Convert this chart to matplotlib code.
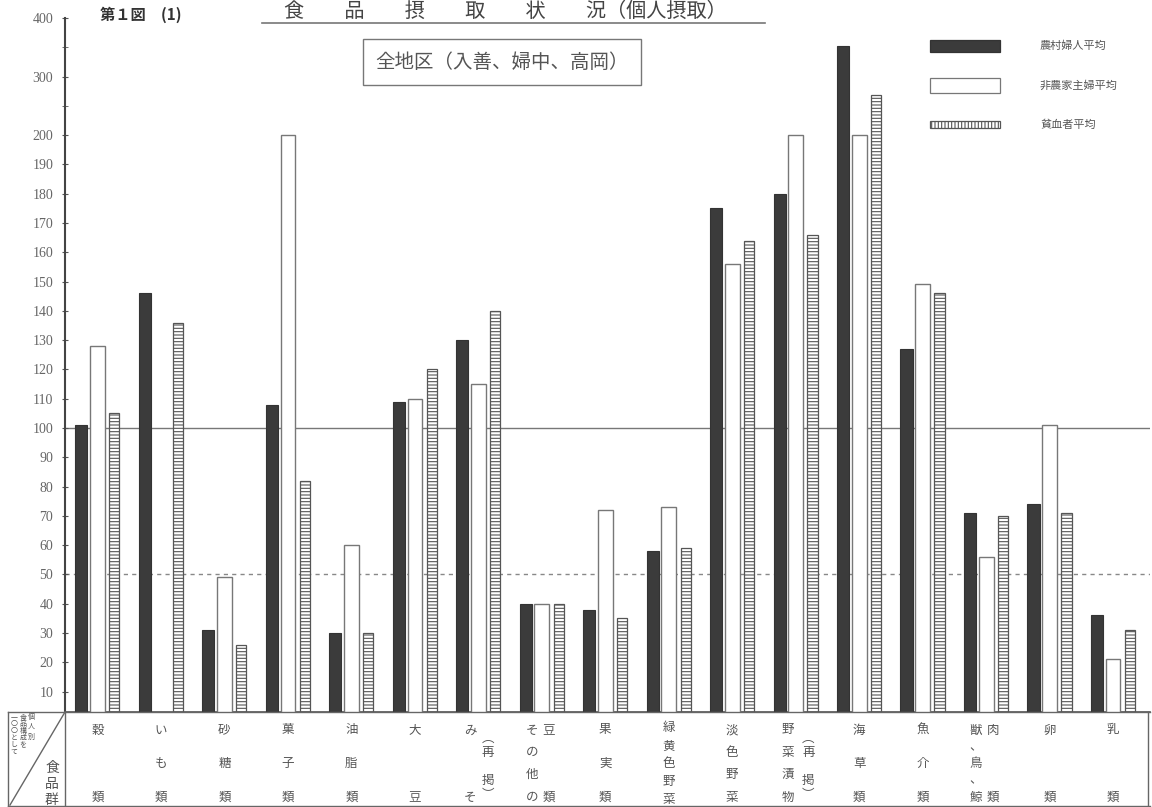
import numpy as np
import matplotlib
matplotlib.use("Agg")
import matplotlib.pyplot as plt
from matplotlib.patches import Rectangle
from matplotlib.lines import Line2D
import matplotlib.transforms as mtrans

plt.rcParams['font.family'] = ['Noto Sans CJK JP', 'DejaVu Sans']
plt.rcParams['hatch.linewidth'] = 0.8

# データ (個人別食品構成を100とした摂取率)
categories = ['穀類', 'いも類', '砂糖類', '菓子類', '油脂類', '大豆', 'みそ（再掲）',
              'その他の豆類', '果実類', '緑黄色野菜', '淡色野菜', '野菜漬物（再掲）',
              '海草類', '魚介類', '獣肉鳥鯨類', '卵類', '乳類']
farm_women = [101, 146, 31, 108, 30, 109, 130, 40, 38, 58, 175, 180, 352, 127, 71, 74, 36]
non_farm_wives = [128, np.nan, 49, 200, 60, 110, 115, 40, 72, 73, 156, 200, 200, 149, 56, 101, 21]
anemic = [105, 136, 26, 82, 30, 120, 140, 40, 35, 59, 164, 166, 268, 146, 70, 71, 31]
series_names = ['農村婦人平均', '非農家主婦平均', '貧血者平均']
ytick_values = [10, 20, 30, 40, 50, 60, 70, 80, 90, 100, 110, 120, 130, 140, 150,
                160, 170, 180, 190, 200, 300, 400]

# 表の中の縦書きラベル (列のずれ, 文字列, 上端px, 下端px)
label_cols = [
    [(0, '穀　類')],
    [(0, 'いも類')],
    [(0, '砂糖類')],
    [(0, '菓子類')],
    [(0, '油脂類')],
    [(0, '大　豆')],
    [(-0.13, 'み　そ'), (0.15, '︵再　掲︶', 738, 795)],
    [(-0.15, 'その他の'), (0.11, '豆　　類')],
    [(0, '果実類')],
    [(0, '緑黄色野菜', 728, 800)],
    [(0, '淡色野菜')],
    [(-0.12, '野菜漬物'), (0.2, '︵再　掲︶', 738, 795)],
    [(0, '海草類')],
    [(0, '魚介類')],
    [(-0.17, '獣、鳥、鯨'), (0.11, '肉　類')],
    [(0, '卵　類')],
    [(0, '乳　類')],
]


def fwd(v):
    v = np.asarray(v, dtype=float)
    return np.where(v <= 200, v, 200 + (v - 200) * 0.2)


def inv(u):
    u = np.asarray(u, dtype=float)
    return np.where(u <= 200, u, 200 + (u - 200) * 5.0)


W, H = 1152, 807
fig = plt.figure(figsize=(W / 100, H / 100), dpi=100)
fig.patch.set_facecolor('white')


def fx(px):
    return px / W


def fy(py):
    return 1 - py / H


ax = fig.add_axes([fx(65), fy(712), fx(1150) - fx(65), fy(18) - fy(712)])
ax.set_yscale('function', functions=(fwd, inv))
ax.set_ylim(3, 400)
ax.set_xlim(-0.51, 16.58)

x = np.arange(len(categories))
ax.bar(x - 0.255, farm_women, width=0.19, color='#3b3b3b', edgecolor='#333333', lw=0.8, zorder=3)
ax.bar(x, non_farm_wives, width=0.23, color='white', edgecolor='#777777', lw=1.0, zorder=3)
ax.bar(x + 0.265, anemic, width=0.16, color='white', edgecolor='#555555', lw=0.9,
       hatch='-----', zorder=3)

ax.axhline(100, color='#777777', lw=1.0, zorder=1)
ax.axhline(50, color='#888888', lw=1.0, ls=(0, (3, 3)), zorder=1)

for s in ['top', 'right']:
    ax.spines[s].set_visible(False)
ax.spines['left'].set_color('#444444')
ax.spines['left'].set_linewidth(1.5)
ax.spines['bottom'].set_color('#555555')
ax.spines['bottom'].set_linewidth(1.2)

ax.set_xticks([])
ax.set_yticks(ytick_values)
ax.set_yticklabels([str(v) for v in ytick_values], family=['Liberation Serif'],
                   fontsize=10, color='#666666')
ax.set_yticks([250, 350], minor=True)
ax.yaxis.set_minor_formatter(plt.NullFormatter())
ax.tick_params(axis='y', which='both', direction='inout', length=5, color='#555555', pad=6)

# タイトル
fig.text(fx(505), fy(11), '食　　品　　摂　　取　　状　　況（個人摂取）', ha='center', va='center',
         fontsize=14.5, color='#444444')
fig.add_artist(Line2D([fx(262), fx(765)], [fy(23), fy(23)], color='#777777', lw=1.2))
fig.text(fx(100), fy(15), '第１図　(1)', ha='left', va='center', fontsize=11,
         fontweight='bold', color='#333333')
fig.text(fx(502), fy(62), '全地区（入善、婦中、高岡）', ha='center', va='center',
         fontsize=14, color='#555555',
         bbox=dict(boxstyle='square,pad=0.65', fc='white', ec='#777777', lw=1.0))

# 凡例
leg_y = [(40, 52), (78, 93), (121, 128)]
leg_style = [dict(fc='#3b3b3b', ec='#333333'), dict(fc='white', ec='#777777'),
             dict(fc='white', ec='#555555', hatch='|||||')]
for (t, b), st, name in zip(leg_y, leg_style, series_names):
    fig.add_artist(Rectangle((fx(930), fy(b)), fx(1000) - fx(930), fy(t) - fy(b),
                             transform=fig.transFigure, lw=0.9, **st))
    fig.text(fx(1040), fy((t + b) / 2), name, ha='left', va='center', fontsize=8,
             color='#555555')

# 下の表
tcol = '#666666'
for seg in [((8, 712), (1150, 712)), ((8, 712), (8, 807)), ((65, 712), (65, 807)),
            ((1148, 712), (1148, 807)), ((8, 806), (1150, 806)), ((10, 805), (65, 712))]:
    (x0, y0), (x1, y1) = seg
    fig.add_artist(Line2D([fx(x0), fx(x1)], [fy(y0), fy(y1)], color=tcol, lw=1.0))

trans = mtrans.blended_transform_factory(ax.transData, fig.transFigure)


def vtext(xpos, text, top, bot, size, tr, color='#555555'):
    n = len(text)
    ys = [top] if n == 1 else np.linspace(top, bot, n)
    for ch, yy in zip(text, ys):
        if ch == '　':
            continue
        fig.text(xpos, fy(yy), ch, ha='center', va='center', fontsize=size,
                 color=color, transform=tr)


for i, cols in enumerate(label_cols):
    for c in cols:
        top, bot = (c[2], c[3]) if len(c) > 2 else (730, 797)
        vtext(i + c[0], c[1], top, bot, 9, trans)

# 見出しのセル
vtext(fx(31), '個人別', 717, 737, 5, fig.transFigure)
vtext(fx(23), '食品構成を', 717, 745, 5, fig.transFigure)
vtext(fx(14), '一〇〇として', 717, 752, 5, fig.transFigure)
vtext(fx(52), '食品群', 768, 800, 10, fig.transFigure)

fig.savefig('out.png', dpi=100)
